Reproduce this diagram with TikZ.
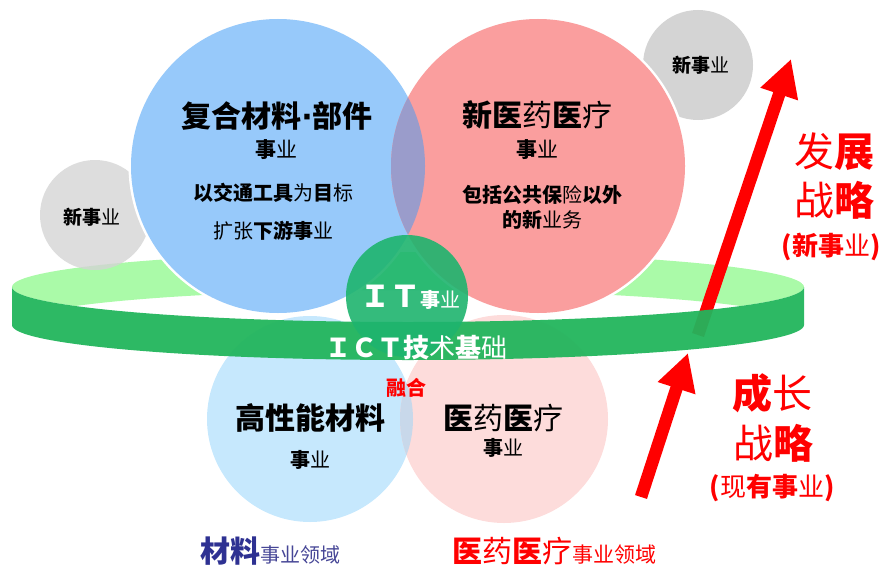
\documentclass[tikz,border=0pt]{standalone}
\usepackage{fontspec}
\setmainfont{Noto Sans CJK SC}
\newfontfamily\dv{DejaVu Sans}
\usetikzlibrary{arrows.meta}
\definecolor{cblue}{RGB}{151,201,250}
\definecolor{cred}{RGB}{250,158,158}
\definecolor{clens}{RGB}{154,156,203}
\definecolor{cgray}{RGB}{212,212,212}
\definecolor{lgreen}{RGB}{170,250,168}
\definecolor{dgreen}{RGB}{34,181,92}
\definecolor{itgreen}{RGB}{30,180,110}
\definecolor{lblue}{RGB}{198,232,253}
\definecolor{lpink}{RGB}{253,220,219}
\definecolor{llens}{RGB}{200,216,234}
\definecolor{navy}{RGB}{46,49,146}
\definecolor{navy2}{RGB}{70,70,150}
\newcommand\rg[1]{{\mdseries #1}}
\newcommand\fsz[1]{\fontsize{#1}{#1}\selectfont}
\begin{document}
\begin{tikzpicture}[x=1pt,y=-1pt,
  txt/.style={inner sep=0pt, font=\bfseries},
  redarrow/.style={draw=red, line width=12.5pt, -{Triangle[length=37pt,width=37pt]}}]
\useasboundingbox (0,0) rectangle (885,567);
% back of the ring
\begin{scope}
\clip (408,287) ellipse [x radius=396, y radius=35];
\fill[lgreen] (12,287) arc[start angle=180,end angle=360,x radius=396,y radius=35]
  -- (804,325) arc[start angle=0,end angle=-180,x radius=396,y radius=35] -- cycle;
\end{scope}
% grey circles
\fill[cgray, opacity=0.8] (95,215) circle[radius=55];
\fill[cgray] (698,65) circle[radius=55];
% big circles
\fill[white] (278,166) circle[radius=149.5];
\fill[white] (538,166) circle[radius=149.5];
\fill[cblue] (278,166) circle[radius=147];
\fill[cred] (538,166) circle[radius=147];
\begin{scope}
\clip (278,166) circle[radius=147];
\fill[clens] (538,166) circle[radius=147];
\end{scope}
% bottom circles
\fill[lblue] (310,419) circle[radius=103];
\fill[lpink] (504,419) circle[radius=104];
\begin{scope}
\clip (310,419) circle[radius=103];
\fill[llens] (504,419) circle[radius=104];
\end{scope}
% upper arrow (behind the band)
\coordinate (ua) at (698,335);
\coordinate (ub) at (791,59);
\draw[redarrow] (ua) -- (ub);
% front of the ring
\fill[dgreen, opacity=0.95] (12,287) arc[start angle=180,end angle=0,x radius=396,y radius=35]
  -- (804,325) arc[start angle=0,end angle=180,x radius=396,y radius=35] -- cycle;
% IT circle
\fill[itgreen, opacity=0.9] (407,296) circle[radius=61];
% lower arrow
\coordinate (la) at (641,497);
\coordinate (lb) at (688,353);
\draw[redarrow] (la) -- (lb);
% texts
\node[txt] (t1) at (277,116) {\fsz{30}复合材料{\dv\bfseries ·}部件};
\node[txt] (t2) at (276,150) {\fsz{21}事\rg{业}};
\node[txt] (t3) at (273,193) {\fsz{20}以交通工具\rg{为}目\rg{标}};
\node[txt] (t4) at (273,231) {\fsz{20}\rg{扩张}下游事\rg{业}};
\node[txt] (t5) at (537,115) {\fsz{30}新医\rg{药}医\rg{疗}};
\node[txt] (t6) at (537,150) {\fsz{21}事\rg{业}};
\node[txt] (t7) at (542,195) {\fsz{20}包括公共保\rg{险}以外};
\node[txt] (t8) at (542,220) {\fsz{20}的新\rg{业务}};
\node[txt] (g1) at (92,217) {\fsz{19}新事\rg{业}};
\node[txt] (g2) at (701,65) {\fsz{19}新事\rg{业}};
\node[txt, text=white] (it) at (410,297) {\fsz{30}ＩＴ\fsz{20}事\rg{业}};
\node[txt, text=white] (ict) at (416,348) {\fsz{26}ＩＣＴ技\rg{术}基\rg{础}};
\node[txt, text=red] (rh) at (406,388) {\fsz{20}融合};
\node[txt] (b1) at (310,418) {\fsz{30}高性能材料};
\node[txt] (b2) at (310,460) {\fsz{20}事\rg{业}};
\node[txt] (b3) at (503,418) {\fsz{30}医\rg{药}医\rg{疗}};
\node[txt] (b4) at (503,448) {\fsz{20}事\rg{业}};
\node[txt, text=red] (s1) at (834,152) {\fsz{40}\rg{发}展};
\node[txt, text=red] (s2) at (834,200) {\fsz{40}\rg{战}略};
\node[txt, text=red] (s3) at (831,247) {\fsz{26}(新事\rg{业})};
\node[txt, text=red] (s4) at (772,393) {\fsz{40}成\rg{长}};
\node[txt, text=red] (s5) at (773,443) {\fsz{40}\rg{战}略};
\node[txt, text=red] (s6) at (772,488) {\fsz{26}(\rg{现}有事\rg{业})};
\node[txt, anchor=base west, text=navy] (f1) at (200,562) {\fsz{30}材料\rg{\fsz{20}\color{navy2}事业领域}};
\node[txt, anchor=base west, text=red] (f2) at (452,562) {\fsz{30}医\rg{药}医\rg{疗}\rg{\fsz{21}事业领域}};
\end{tikzpicture}
\end{document}
